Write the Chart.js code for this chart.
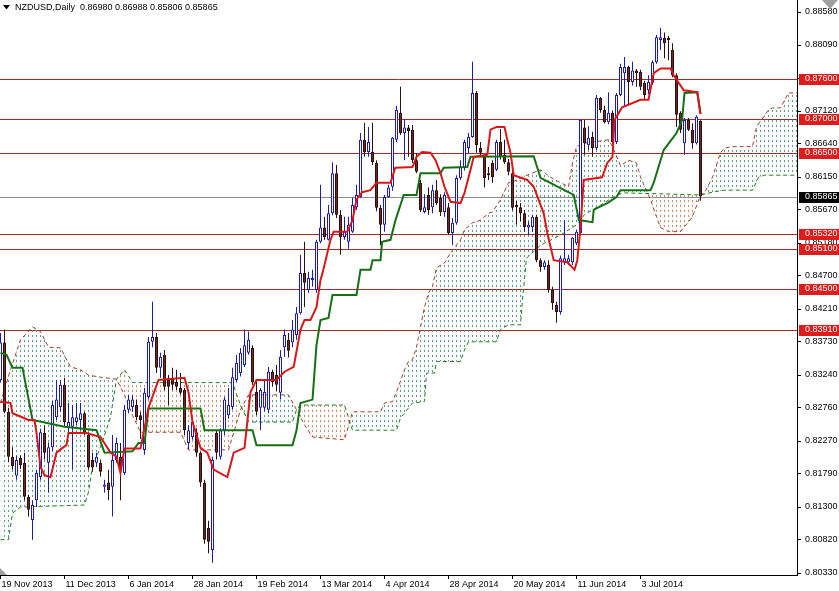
<!DOCTYPE html>
<html>
<head>
<meta charset="utf-8">
<script src="https://cdn.jsdelivr.net/npm/chart.js@4.4.1/dist/chart.umd.min.js"></script>
<style>
html, body { margin: 0; padding: 0; background: #fff; overflow: hidden; }
canvas { display: block; }
</style>
</head>
<body>
<canvas id="chart" width="839" height="591"></canvas>
<script>
// NZDUSD daily candles with Ichimoku overlay.
// Bar index 0 = 19 Nov 2013, one index per trading day.

const opens = [
  .8317, .8372, .8270, .8204, .8176, .8202, .8195, .8145, .8111, .8140,
  .8174, .8239, .8195, .8218, .8262, .8277, .8310, .8246, .8248, .8255,
  .8258, .8268, .8236, .8199, .8195, .8195, .8160, .8166, .8160, .8199,
  .8204, .8180, .8273, .8277, .8280, .8265, .8214, .8292, .8373, .8380,
  .8335, .8354, .8317, .8320, .8314, .8305, .8302, .8224, .8233, .8240,
  .8210, .8166, .8099, .8067, .8239, .8204, .8243, .8265, .8277, .8317,
  .8327, .8339, .8357, .8364, .8299, .8276, .8276, .8273, .8329, .8324,
  .8298, .8365, .8376, .8372, .8383, .8415, .8474, .8449, .8464, .8449,
  .8520, .8541, .8523, .8562, .8621, .8560, .8527, .8520, .8535, .8571,
  .8586, .8670, .8652, .8652, .8636, .8570, .8545, .8586, .8601, .8670,
  .8710, .8680, .8688, .8685, .8640, .8607, .8564, .8589, .8571, .8596,
  .8585, .8564, .8571, .8533, .8548, .8614, .8630, .8658, .8674, .8739,
  .8658, .8645, .8621, .8636, .8626, .8667, .8648, .8637, .8621, .8574,
  .8571, .8562, .8541, .8542, .8557, .8493, .8483, .8486, .8449, .8427,
  .8417, .8490, .8490, .8490, .8518, .8533, .8688, .8662, .8674, .8658,
  .8732, .8714, .8696, .8710, .8667, .8736, .8768, .8777, .8755, .8772,
  .8770, .8754, .8743, .8754, .8784, .8817, .8820, .8820, .8802, .8765,
  .8710, .8665, .8699, .8685, .8665, .86980
];
const highs = [
  .8386, .8391, .8276, .8218, .8205, .8206, .8210, .8148, .8140, .8185,
  .8245, .8250, .8225, .8286, .8317, .8317, .8320, .8283, .8280, .8283,
  .8283, .8270, .8240, .8210, .8210, .8200, .8170, .8185, .8236, .8232,
  .8224, .8280, .8295, .8295, .8288, .8270, .8305, .8380, .8432, .8386,
  .8357, .8361, .8324, .8335, .8332, .8327, .8305, .8250, .8260, .8246,
  .8212, .8170, .8110, .8204, .8243, .8246, .8292, .8305, .8335, .8354,
  .8364, .8391, .8388, .8368, .8317, .8305, .8317, .8336, .8332, .8339,
  .8361, .8391, .8386, .8405, .8424, .8501, .8520, .8476, .8479, .8523,
  .8604, .8557, .8574, .8637, .8633, .8567, .8557, .8557, .8585, .8604,
  .8680, .8695, .8689, .8695, .8640, .8574, .8589, .8604, .8674, .8720,
  .8748, .8700, .8692, .8692, .8650, .8611, .8590, .8600, .8604, .8611,
  .8590, .8593, .8577, .8555, .8618, .8640, .8670, .8680, .8785, .8742,
  .8667, .8648, .8630, .8640, .8670, .8686, .8670, .8642, .8625, .8580,
  .8577, .8567, .8550, .8560, .8560, .8496, .8493, .8493, .8454, .8432,
  .8500, .8552, .8501, .8527, .8538, .8700, .8699, .8690, .8682, .8736,
  .8733, .8720, .8740, .8713, .8739, .8782, .8792, .8779, .8785, .8774,
  .8773, .8757, .8765, .8787, .8824, .8835, .8828, .8823, .8812, .8768,
  .8712, .8702, .8702, .8694, .8706, .86988
];
const lows = [
  .8313, .8268, .8196, .8185, .8170, .8186, .8140, .8116, .8082, .8130,
  .8170, .8200, .8151, .8212, .8258, .8270, .8248, .8240, .8185, .8250,
  .8243, .8236, .8185, .8182, .8189, .8175, .8151, .8140, .8116, .8195,
  .8140, .8177, .8268, .8270, .8258, .8230, .8207, .8288, .8365, .8327,
  .8320, .8302, .8280, .8302, .8302, .8295, .8236, .8215, .8229, .8204,
  .8160, .8076, .8062, .8048, .8200, .8200, .8236, .8260, .8273, .8313,
  .8322, .8336, .8354, .8310, .8265, .8243, .8270, .8268, .8307, .8300,
  .8288, .8351, .8350, .8365, .8376, .8413, .8424, .8445, .8454, .8445,
  .8518, .8523, .8522, .8559, .8555, .8501, .8523, .8510, .8533, .8567,
  .8585, .8645, .8645, .8633, .8565, .8515, .8535, .8585, .8595, .8667,
  .8677, .8640, .8645, .8636, .8621, .8564, .8562, .8560, .8562, .8574,
  .8558, .8557, .8530, .8515, .8545, .8611, .8625, .8650, .8673, .8651,
  .8645, .8600, .8611, .8607, .8624, .8641, .8635, .8618, .8566, .8545,
  .8550, .8535, .8530, .8535, .8490, .8476, .8479, .8445, .8420, .8401,
  .8413, .8486, .8486, .8486, .8515, .8530, .8648, .8655, .8645, .8655,
  .8710, .8694, .8693, .8664, .8664, .8734, .8720, .8720, .8750, .8748,
  .8743, .8730, .8737, .8751, .8782, .8802, .8790, .8787, .8762, .8689,
  .8680, .8648, .8683, .8657, .8663, .85806
];
const closes = [
  .8372, .8270, .8204, .8190, .8199, .8192, .8145, .8126, .8133, .8180,
  .8240, .8210, .8218, .8280, .8288, .8310, .8255, .8255, .8262, .8262,
  .8268, .8239, .8188, .8188, .8204, .8182, .8163, .8155, .8199, .8224,
  .8185, .8273, .8288, .8288, .8262, .8258, .8298, .8373, .8380, .8335,
  .8351, .8307, .8307, .8310, .8307, .8298, .8243, .8243, .8255, .8210,
  .8166, .8082, .8079, .8199, .8210, .8243, .8288, .8280, .8321, .8342,
  .8357, .8368, .8376, .8313, .8270, .8302, .8299, .8329, .8314, .8310,
  .8351, .8383, .8360, .8391, .8415, .8474, .8460, .8467, .8467, .8520,
  .8541, .8527, .8562, .8621, .8560, .8527, .8535, .8545, .8574, .8589,
  .8670, .8652, .8667, .8637, .8570, .8545, .8586, .8600, .8673, .8714,
  .8680, .8688, .8683, .8640, .8623, .8567, .8571, .8567, .8596, .8577,
  .8564, .8589, .8533, .8548, .8614, .8630, .8667, .8674, .8739, .8662,
  .8651, .8614, .8618, .8615, .8667, .8645, .8637, .8623, .8570, .8571,
  .8562, .8542, .8545, .8557, .8493, .8483, .8490, .8449, .8430, .8417,
  .8496, .8496, .8496, .8526, .8535, .8699, .8665, .8673, .8658, .8732,
  .8714, .8696, .8710, .8667, .8736, .8777, .8777, .8755, .8772, .8768,
  .8748, .8736, .8755, .8784, .8821, .8821, .8812, .8817, .8765, .8707,
  .8685, .8699, .8685, .8665, .8704, .85865
];

// Ichimoku lines as [bar index, price] pairs
const tenkan = [
  [0, .8285], [2.5, .8283], [3, .8268], [7, .8258], [8.5, .8258], [9, .8239], [10, .8189],
  [11, .8177], [12.5, .8174], [14, .8210], [15.5, .8217], [16.5, .8221], [17, .8239],
  [21.5, .8239], [25, .8233], [27.5, .8210], [29, .8204], [30, .8180], [31, .8216],
  [35, .8216], [37, .8276], [39.5, .8317], [46, .8320], [47, .8299], [48, .8255],
  [50, .8217], [51.7, .8210], [53.3, .8185], [56.7, .8174], [58.3, .8210], [61, .8217],
  [62.5, .8299], [64, .8317], [69, .8317], [71, .8329], [73.3, .8336], [75, .8391],
  [76, .8405], [77.5, .8405], [79, .8424], [80, .8464], [80.5, .8474], [82.5, .8523],
  [83.3, .8535], [86.7, .8535], [88, .8552], [89, .8582], [90.4, .8593], [92.5, .8596],
  [94, .8607], [97.5, .8607], [98.7, .8629], [103, .8630], [104, .8645], [105.4, .8652],
  [107.5, .8651], [108.75, .8640], [110, .8621], [111, .8601], [112.5, .8579], [115, .8577],
  [116, .8592], [117.5, .8626], [118.3, .8645], [121.7, .8648], [122.5, .8685], [124, .8689],
  [126, .8689], [126.7, .8670], [127.5, .8651], [128.3, .8618], [131.7, .8611], [133.3, .8601],
  [135.8, .8562], [136.7, .8533], [138.3, .8493], [141.7, .8490], [143, .8482], [143.5, .8479],
  [144.2, .8493], [145, .8541], [145.8, .8611], [150.4, .8615], [151.7, .8636], [153, .8645],
  [153.5, .8699], [155.4, .8718], [160, .8729], [162, .8729], [163.3, .8768], [165, .8775],
  [167.5, .8775], [168.3, .8765], [170.8, .8743], [174.2, .8740], [175, .8708]
];
const kijun = [
  [0, .8357], [1.5, .8354], [3, .8335], [5.5, .8335], [8, .8258], [16, .8248], [24, .8243],
  [26, .8210], [33, .8212], [34.5, .8224], [36, .8224], [37, .8275], [50, .8275], [51, .8243],
  [63, .8243], [64, .8221], [73, .8221], [74, .8243], [75, .8283], [78, .8288], [79, .8368],
  [80, .8405], [82, .8408], [83, .8442], [89, .8442], [90, .8479], [92.5, .8479], [93, .8493],
  [95, .8493], [95.4, .8520], [97.5, .8523], [98.75, .8552], [100.8, .8589], [104, .8589],
  [105, .8621], [110, .8621], [110.8, .8629], [116.7, .8630], [117.5, .8645], [133.3, .8646],
  [135, .8614], [138.3, .8604], [143.3, .8589], [144.6, .8552], [148, .8549], [148.3, .8567],
  [149.6, .8571], [151.7, .8577], [154, .8586], [155, .8596], [162.5, .8596], [163.3, .8607],
  [165.8, .8655], [169, .8680], [170.4, .8699], [171, .8739], [174.2, .8740], [175, .8708]
];
const spanA = [
  [0, .8283], [2.5, .8332], [5, .8376], [8, .8395], [10, .8388], [12, .8365], [15, .8364],
  [17.5, .8336], [20, .8332], [22, .8324], [25, .8321], [29, .8318], [31, .8295], [33, .8265],
  [35, .8240], [45, .8240], [47, .8214], [57, .8214], [60, .8273], [62, .8295], [72, .8295],
  [74, .8273], [76, .8251], [78, .8233], [86, .8229], [88, .8270], [95, .8270], [96, .8283],
  [98, .8285], [99.5, .8307], [101, .8332], [102, .8344], [103, .8347], [104, .8365],
  [105, .8395], [106, .8424], [107, .8445], [108, .8454], [109, .8482], [111, .8489],
  [112.5, .8504], [115, .8523], [116, .8538], [118, .8548], [120, .8552], [122, .8562],
  [123, .8564], [125, .8582], [127, .8607], [128, .8608], [130, .8614], [135, .8626],
  [137.5, .8615], [140, .8607], [142, .8601], [143, .8636], [144, .8660], [146, .8665],
  [152, .8670], [153, .8660], [155, .8632], [157, .8640], [159, .8636], [160, .8615],
  [162.5, .8582], [164, .8557], [165, .8541], [167, .8535], [170, .8535], [173, .8557],
  [175, .8589], [176, .8592], [178, .8615], [180, .8651], [181, .8658], [183, .8660],
  [188, .8660], [189, .8689], [192, .8714], [193, .8717], [195, .8717], [197, .8739], [201, .8739]
];
const spanB = [
  [0, .8082], [2, .8082], [3, .8121], [5, .8130], [21, .8133], [22, .8152], [23, .8189],
  [25, .8218], [27.5, .8262], [29, .8318], [31, .8332], [33, .8313], [58, .8313], [60, .8280],
  [62, .8255], [73, .8255], [74, .8273], [75, .8280], [86, .8280], [88, .8243], [99, .8243],
  [100, .8261], [103, .8283], [106, .8285], [106.5, .8327], [108.5, .8327], [109, .8344],
  [115, .8344], [116, .8361], [117, .8373], [124, .8373], [125, .8391], [127, .8398],
  [130, .8398], [130.5, .8435], [131.5, .8496], [135, .8515], [140, .8530], [144, .8545],
  [146, .8560], [150, .8574], [154, .8589], [156, .8592], [175, .8589], [178, .8593],
  [181, .8596], [188, .8596], [189.5, .8615], [191, .8618], [201, .8618]
];

const dateTicks = [0, 16, 32, 48, 64, 80, 96, 112, 128, 144, 160];
const dateLabels = ['19 Nov 2013', '11 Dec 2013', '6 Jan 2014', '28 Jan 2014', '19 Feb 2014',
  '13 Mar 2014', '4 Apr 2014', '28 Apr 2014', '20 May 2014', '11 Jun 2014', '3 Jul 2014'];
const priceTicks = [0.8858, 0.8809, 0.8760, 0.8712, 0.8664, 0.8615, 0.8567, 0.8518, 0.8470,
  0.8421, 0.8373, 0.8324, 0.8276, 0.8227, 0.8179, 0.8130, 0.8082, 0.8033];
const levels = [0.8760, 0.8700, 0.8650, 0.8532, 0.8510, 0.8450, 0.8391];
const bid = 0.85865;
const title = 'NZDUSD,Daily  0.86980 0.86988 0.85806 0.85865';

const UP = '#1c1cb0', DOWN_LINE = '#2a1010', DOWN_FILL = '#722626';
const FONT = '9px "Liberation Sans", Arial, sans-serif';

const canvas = document.getElementById('chart');
const mainCtx = canvas.getContext('2d');

// vertical dotted hatch, one column per bar, like the terminal's cloud histogram
function dots(color) {
  const c = document.createElement('canvas');
  c.width = 4; c.height = 5;
  const g = c.getContext('2d');
  g.fillStyle = color;
  g.fillRect(0, 0, 1, 2);
  return mainCtx.createPattern(c, 'repeat');
}

const isUp = opens.map((o, i) => closes[i] >= o);
const pts = arr => arr.map(([x, y]) => ({ x, y }));

const overlay = {
  id: 'overlay',
  beforeDatasetsDraw(chart) {
    const { ctx, chartArea: a, scales: { y } } = chart;
    ctx.save();
    ctx.lineWidth = 1;
    ctx.strokeStyle = '#a52a2a';
    levels.forEach(v => {
      const py = Math.round(y.getPixelForValue(v)) + 0.5;
      ctx.beginPath(); ctx.moveTo(a.left, py); ctx.lineTo(a.right, py); ctx.stroke();
    });
    ctx.strokeStyle = '#8c8c8c';
    const by = Math.round(y.getPixelForValue(bid)) + 0.5;
    ctx.beginPath(); ctx.moveTo(a.left, by); ctx.lineTo(a.right, by); ctx.stroke();
    ctx.restore();
  },
  afterDraw(chart) {
    const { ctx, chartArea: a, scales: { x, y } } = chart;
    ctx.save();
    ctx.font = FONT;
    ctx.textBaseline = 'middle';
    ctx.textAlign = 'left';
    ctx.fillStyle = '#000';
    priceTicks.forEach(v => ctx.fillText(v.toFixed(5), a.right + 8, Math.round(y.getPixelForValue(v))));
    dateTicks.forEach((v, i) => ctx.fillText(dateLabels[i], Math.max(0, x.getPixelForValue(v) + 1), 585));

    const tag = (v, bg) => {
      const py = Math.round(y.getPixelForValue(v));
      ctx.fillStyle = bg;
      ctx.fillRect(a.right + 2, py - 5, 40, 11);
      ctx.fillStyle = '#fff';
      ctx.fillText(v.toFixed(5), a.right + 8, py);
    };
    levels.forEach(v => tag(v, '#e01b1b'));
    tag(bid, '#000');

    // title
    ctx.fillStyle = '#000';
    ctx.beginPath(); ctx.moveTo(3, 5); ctx.lineTo(10, 5); ctx.lineTo(6.5, 9.5); ctx.closePath(); ctx.fill();
    ctx.fillText(title, 15, 8);

    // shift / scroll markers
    ctx.fillStyle = '#a0a0a0';
    ctx.beginPath(); ctx.moveTo(822, 0); ctx.lineTo(838, 0); ctx.lineTo(830, 9); ctx.closePath(); ctx.fill();
    ctx.beginPath(); ctx.moveTo(0, 568); ctx.lineTo(0, a.bottom); ctx.lineTo(7, a.bottom); ctx.closePath(); ctx.fill();
    ctx.restore();
  }
};

new Chart(canvas, {
  type: 'bar',
  data: {
    datasets: [
      { type: 'line', data: pts(tenkan), borderColor: '#d81818', borderWidth: 2, pointRadius: 0, tension: 0, clip: 0 },
      { type: 'line', data: pts(kijun), borderColor: '#157015', borderWidth: 2, pointRadius: 0, tension: 0, clip: 0 },
      {
        data: opens.map((o, i) => ({ x: i, y: [o, closes[i]] })),
        backgroundColor: isUp.map(u => u ? '#ffffff' : DOWN_FILL),
        borderColor: isUp.map(u => u ? UP : DOWN_LINE),
        borderWidth: 1, borderSkipped: false, barThickness: 3, grouped: false, inflateAmount: 0, clip: 0
      },
      {
        data: highs.map((h, i) => ({ x: i, y: [lows[i], h] })),
        backgroundColor: isUp.map(u => u ? UP : DOWN_LINE),
        borderWidth: 0, barThickness: 1, grouped: false, inflateAmount: 0, clip: 0
      },
      {
        type: 'line', data: pts(spanA), borderColor: '#a0402a', borderWidth: 1, borderDash: [4, 3],
        pointRadius: 0, tension: 0, clip: 0,
        fill: { target: '+1', above: dots('#5a9e82'), below: dots('#cf8a68') }
      },
      {
        type: 'line', data: pts(spanB), borderColor: '#1f7a1f', borderWidth: 1, borderDash: [4, 3],
        pointRadius: 0, tension: 0, clip: 0
      }
    ]
  },
  options: {
    responsive: false,
    animation: false,
    events: [],
    devicePixelRatio: 1,
    layout: { padding: 0 },
    plugins: { legend: { display: false }, tooltip: { enabled: false } },
    scales: {
      x: {
        type: 'linear', min: -0.125, max: 199.125, position: 'bottom', offset: false,
        afterBuildTicks: s => { s.ticks = dateTicks.map(v => ({ value: v })); },
        afterFit: s => { s.height = 16; },
        ticks: { display: false },
        grid: { display: true, offset: false, drawOnChartArea: false, drawTicks: true, tickLength: 4, color: '#000' },
        border: { display: true, color: '#000', width: 1 }
      },
      y: {
        type: 'linear', position: 'right', min: 0.803006, max: 0.887565,
        afterBuildTicks: s => { s.ticks = priceTicks.map(v => ({ value: v })); },
        afterFit: s => { s.width = 42; },
        ticks: { display: false },
        grid: { display: true, drawOnChartArea: false, drawTicks: true, tickLength: 4, color: '#000' },
        border: { display: true, color: '#000', width: 1 }
      }
    }
  },
  plugins: [overlay]
});
</script>
</body>
</html>
